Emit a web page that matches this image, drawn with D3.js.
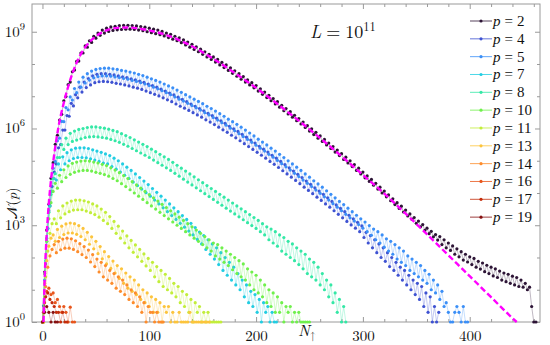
<!DOCTYPE html>
<html>
<head>
<meta charset="utf-8">
<script src="https://cdn.jsdelivr.net/npm/d3@7"></script>
<style>
body { margin: 0; background: #fff; }
</style>
</head>
<body>
<svg id="chart" width="550" height="345"></svg>
<script>
// log10 of N(p); one point every second N_up from seriesStart
var pValues = [2, 4, 5, 7, 8, 10, 11, 13, 14, 16, 17, 19];
var seriesColors = ["#2d1436", "#3e52d2", "#3b8ff7", "#22cde2", "#34e8a6", "#70f04c",
                    "#c2ee3a", "#fcc43c", "#fd8c2c", "#e8561c", "#c42c0a", "#861010"];
var seriesStart = [0, 1, 0, 1, 0, 0, 1, 0, 1, 0, 1, 0];
var nStep = 2;

var logN_p2 = [0,1.55,2.85,3.65,4.46,4.94,5.51,5.79,6.26,6.44,6.86,6.99,7.36,7.44,7.76,7.81,8.08,8.09,8.34,8.34,
  8.56,8.52,8.72,8.67,8.86,8.8,8.96,8.89,9.05,8.96,9.11,9.01,9.15,9.04,9.17,9.06,9.19,9.07,9.2,9.08,
  9.2,9.08,9.19,9.07,9.18,9.05,9.16,9.03,9.14,9.0,9.11,8.97,9.08,8.94,9.05,8.91,9.01,8.87,8.96,8.82,
  8.92,8.77,8.86,8.72,8.81,8.66,8.75,8.59,8.68,8.52,8.61,8.45,8.53,8.38,8.46,8.3,8.38,8.22,8.3,8.14,
  8.22,8.06,8.14,7.97,8.05,7.89,7.97,7.8,7.88,7.71,7.79,7.62,7.7,7.53,7.61,7.44,7.51,7.35,7.42,7.26,
  7.33,7.16,7.23,7.06,7.13,6.96,7.03,6.86,6.93,6.76,6.83,6.66,6.72,6.55,6.62,6.45,6.52,6.35,6.41,6.24,
  6.31,6.14,6.2,6.03,6.09,5.92,5.99,5.81,5.88,5.7,5.77,5.6,5.66,5.49,5.55,5.38,5.44,5.27,5.33,5.16,
  5.22,5.04,5.11,4.93,5.0,4.82,4.88,4.7,4.77,4.59,4.65,4.47,4.53,4.36,4.42,4.24,4.3,4.12,4.18,4.0,
  4.06,3.88,3.94,3.76,3.82,3.64,3.7,3.52,3.59,3.41,3.47,3.29,3.35,3.18,3.24,3.06,3.13,2.95,3.02,2.84,
  2.91,2.74,2.81,2.64,2.71,2.54,2.65,2.4,2.55,2.3,2.45,2.22,2.36,2.1,2.27,2.02,2.18,1.92,2.1,1.86,
  2.02,1.78,1.97,1.7,1.88,1.64,1.83,1.56,1.76,1.5,1.7,1.43,1.65,1.38,1.58,1.3,1.52,1.25,1.48,1.2,
  1.42,1.15,1.38,1.1,1.3,1.08,1.2,1.0,1.08,0.48,0,0];
var logN_p4 = [0.5,1.8,2.9,3.6,4.2,4.65,4.9,5.4,5.5,5.95,5.95,6.4,6.38,6.78,6.7,7.05,6.95,7.28,7.13,7.44,
  7.27,7.55,7.35,7.63,7.42,7.68,7.45,7.7,7.46,7.7,7.45,7.68,7.43,7.66,7.4,7.63,7.38,7.6,7.35,7.58,
  7.32,7.54,7.28,7.51,7.25,7.47,7.21,7.43,7.16,7.38,7.11,7.33,7.06,7.28,7.01,7.22,6.95,7.16,6.89,7.1,
  6.83,7.04,6.76,6.97,6.69,6.9,6.63,6.83,6.56,6.76,6.49,6.69,6.42,6.62,6.35,6.55,6.27,6.47,6.2,6.4,
  6.12,6.32,6.04,6.24,5.96,6.16,5.88,6.07,5.79,5.99,5.71,5.91,5.62,5.82,5.53,5.73,5.44,5.64,5.35,5.55,
  5.26,5.45,5.17,5.36,5.08,5.27,4.98,5.17,4.89,5.08,4.79,4.98,4.69,4.88,4.59,4.78,4.49,4.68,4.39,4.58,
  4.29,4.48,4.18,4.37,4.08,4.27,3.98,4.16,3.87,4.06,3.77,3.96,3.66,3.85,3.56,3.74,3.45,3.63,3.34,3.52,
  3.23,3.42,3.12,3.31,3.01,3.2,2.91,3.09,2.8,2.98,2.62,2.78,2.45,2.68,2.3,2.55,2.15,2.42,2.0,2.3,
  1.88,2.15,1.72,2.0,1.6,1.85,1.45,1.7,1.3,1.6,1.15,1.45,1.0,1.3,0.85,1.2,0.7,1.1,0.48,0.9,
  0.3,0.78,0,0.48,0,0.3];
var logN_p5 = [0,1.3,2.5,3.45,4.05,4.77,4.98,5.62,5.7,6.22,6.21,6.65,6.58,6.98,6.88,7.24,7.11,7.44,7.28,7.59,
  7.41,7.7,7.5,7.78,7.57,7.83,7.61,7.86,7.63,7.87,7.63,7.87,7.62,7.85,7.6,7.83,7.58,7.8,7.55,7.78,
  7.53,7.75,7.49,7.72,7.46,7.68,7.42,7.64,7.38,7.59,7.33,7.54,7.28,7.49,7.23,7.44,7.17,7.38,7.11,7.32,
  7.05,7.26,6.98,7.19,6.91,7.12,6.85,7.05,6.78,6.98,6.71,6.91,6.64,6.84,6.57,6.77,6.49,6.69,6.42,6.62,
  6.34,6.54,6.26,6.46,6.18,6.38,6.1,6.29,6.01,6.21,5.93,6.13,5.84,6.04,5.75,5.95,5.66,5.86,5.57,5.77,
  5.48,5.67,5.39,5.58,5.3,5.49,5.2,5.39,5.11,5.3,5.01,5.2,4.91,5.1,4.81,5.0,4.71,4.9,4.61,4.8,
  4.51,4.7,4.4,4.59,4.3,4.49,4.2,4.38,4.09,4.28,3.99,4.18,3.88,4.07,3.78,3.96,3.67,3.85,3.56,3.74,
  3.45,3.64,3.34,3.53,3.23,3.42,3.13,3.31,3.02,3.2,2.91,3.1,2.8,2.99,2.69,2.88,2.55,2.8,2.45,2.7,
  2.32,2.58,2.2,2.5,2.1,2.4,1.95,2.3,1.85,2.2,1.75,2.05,1.6,1.95,1.5,1.85,1.4,1.75,1.3,1.6,
  1.2,1.48,1.0,1.3,0.9,1.15,0.7,0.95,0.48,0.6,0.3,0,0,0.3,0.48,0.3,0,0.48,0,0];
var logN_p7 = [0,1.9,2.9,3.6,4.05,4.45,4.4,4.9,4.72,5.12,4.9,5.25,5.0,5.34,5.07,5.39,5.1,5.4,5.1,5.4,
  5.09,5.38,5.06,5.34,5.02,5.3,4.98,5.26,4.93,5.21,4.9,5.16,4.82,5.08,4.74,5.0,4.65,4.9,4.55,4.8,
  4.45,4.7,4.34,4.59,4.23,4.48,4.12,4.37,4.01,4.26,3.9,4.14,3.78,4.02,3.66,3.9,3.54,3.78,3.42,3.66,
  3.3,3.54,3.18,3.42,3.06,3.3,2.94,3.18,2.82,3.06,2.7,2.93,2.56,2.79,2.42,2.68,2.25,2.55,2.1,2.42,
  1.95,2.3,1.78,2.15,1.6,2.0,1.45,1.85,1.3,1.7,1.15,1.5,1.0,1.3,0.78,1.15,0.6,0.95,0.48,0.85,
  0.3,0.7,0,0.6,0.3,0.48,0,0.3,0,0];
var logN_p8 = [0,1.5,2.6,3.4,3.95,4.45,4.6,5.1,5.1,5.5,5.35,5.7,5.5,5.85,5.6,5.92,5.64,5.97,5.68,6.0,
  5.72,6.03,5.74,6.05,5.75,6.05,5.74,6.03,5.72,6.01,5.7,5.98,5.66,5.94,5.62,5.9,5.57,5.84,5.51,5.78,
  5.45,5.72,5.38,5.65,5.31,5.58,5.24,5.51,5.17,5.44,5.1,5.36,5.02,5.28,4.94,5.2,4.86,5.12,4.78,5.04,
  4.7,4.95,4.61,4.86,4.52,4.77,4.43,4.68,4.34,4.59,4.25,4.5,4.16,4.41,4.07,4.32,3.98,4.23,3.89,4.14,
  3.8,4.05,3.71,3.96,3.62,3.87,3.53,3.78,3.44,3.69,3.35,3.6,3.26,3.51,3.17,3.42,3.08,3.33,2.99,3.24,
  2.9,3.15,2.8,3.05,2.7,2.95,2.55,2.88,2.45,2.8,2.35,2.7,2.2,2.62,2.1,2.5,2.0,2.42,1.9,2.3,
  1.78,2.2,1.65,2.1,1.5,1.95,1.4,1.85,1.3,1.7,1.15,1.5,1.0,1.3,0.78,1.15,0.6,0.9,0.3,0.7,
  0,0.48,0];
var logN_p10 = [0,1.5,2.5,3.2,3.7,4.05,4.3,4.15,4.55,4.35,4.72,4.48,4.84,4.58,4.92,4.64,4.96,4.68,4.99,4.7,
  5.0,4.7,4.99,4.68,4.96,4.64,4.93,4.61,4.89,4.57,4.85,4.52,4.78,4.45,4.71,4.38,4.63,4.29,4.54,4.2,
  4.45,4.1,4.35,4.0,4.25,3.9,4.15,3.8,4.05,3.7,3.95,3.6,3.85,3.5,3.75,3.4,3.65,3.3,3.55,3.2,
  3.45,3.1,3.35,3.0,3.25,2.9,3.15,2.8,3.05,2.7,2.95,2.6,2.85,2.5,2.75,2.4,2.65,2.3,2.55,2.2,
  2.45,2.05,2.4,1.95,2.3,1.85,2.2,1.75,2.1,1.62,2.0,1.5,1.9,1.4,1.8,1.3,1.65,1.15,1.55,1.0,
  1.45,0.9,1.3,0.78,1.15,0.6,1.0,0.48,0.9,0.3,0.78,0.3,0.6,0,0.48,0.3,0.48,0,0.3,0,
  0.3,0,0,0,0,0];
var logN_p11 = [0,1.4,2.2,2.75,3.05,3.2,3.05,3.45,3.23,3.6,3.35,3.69,3.42,3.75,3.47,3.78,3.48,3.78,3.48,3.76,
  3.44,3.72,3.39,3.66,3.33,3.6,3.25,3.5,3.15,3.4,3.05,3.27,2.9,3.12,2.75,2.97,2.6,2.82,2.45,2.67,
  2.3,2.53,2.16,2.39,2.02,2.25,1.88,2.11,1.74,1.97,1.6,1.85,1.4,1.72,1.25,1.6,1.1,1.48,1.0,1.35,
  0.9,1.2,0.78,1.1,0.6,0.95,0.48,0.85,0.3,0.7,0,0.6,0.3,0.48,0,0.3,0,0.3,0,0,
  0,0,0,0];
var logN_p13 = [0,1.2,1.9,2.35,2.6,2.7,2.5,2.87,2.62,2.97,2.71,3.04,2.76,3.07,2.76,3.05,2.72,2.99,2.65,2.9,
  2.55,2.78,2.41,2.64,2.27,2.5,2.12,2.34,1.96,2.18,1.8,2.03,1.66,1.89,1.52,1.75,1.35,1.65,1.2,1.52,
  1.05,1.4,0.95,1.3,0.85,1.15,0.7,1.0,0.6,0.9,0.48,0.78,0.3,0.7,0.3,0.6,0,0.48,0.3,0.48,
  0,0.3,0,0,0.3,0,0,0,0,0.3,0,0,0,0,0,0,0,0,0];
var logN_p14 = [0,1.1,1.7,2.05,2.25,2.4,2.15,2.5,2.24,2.57,2.29,2.6,2.29,2.58,2.25,2.52,2.18,2.43,2.09,2.34,
  2.0,2.23,1.86,2.09,1.72,1.95,1.55,1.85,1.4,1.75,1.3,1.6,1.2,1.5,1.05,1.4,0.95,1.3,0.85,1.15,
  0.7,1.0,0.6,0.9,0.48,0.78,0.3,0.6,0,0.48,0.3,0.3,0,0.3,0,0,0];
var logN_p16 = [0,0.6,0.95,1.05,0.85,0.9,0.6,0.7,0.48,0.3,0.48,0.3,0,0.46,0,0];
var logN_p17 = [0.3,0.78,0.9,0.7,0.6,0.48,0.3,0.3,0,0.3,0,0];
var logN_p19 = [0,0.3,0.48,0.3,0,0.3,0,0];

var seriesLogs = [logN_p2, logN_p4, logN_p5, logN_p7, logN_p8, logN_p10,
                  logN_p11, logN_p13, logN_p14, logN_p16, logN_p17, logN_p19];

// dashed magenta reference curve
var fitN = [1,2,3,4,5,6,8,10,15,20,25,30,35,40,50,60,70,80,90,100,120,140,160,180,
            200,220,240,260,280,300,320,340,360,380,400,420,440,444];
var fitLog = [0,1.3,2.1,2.75,3.25,3.7,4.4,4.95,6.05,6.8,7.4,7.88,8.25,8.52,8.86,9.04,9.12,9.13,9.1,9.04,
              8.85,8.55,8.16,7.72,7.26,6.76,6.24,5.7,5.14,4.56,3.98,3.36,2.72,2.07,1.42,0.77,0.12,0];

var xMajor = [0, 100, 200, 300, 400];
var xMinor = [20,40,60,80,120,140,160,180,220,240,260,280,320,340,360,380,420,440,460];
var yMajorExp = [0, 3, 6, 9];
var yMinorExp = [1, 2, 4, 5, 7, 8];

var FONT = "'Latin Modern Roman', 'Liberation Serif', serif";
var LEGEND_FONT = "'Liberation Serif', serif";

var svg = d3.select("#chart");
var margin = {top: 4, right: 10, bottom: 23, left: 32};
var width = +svg.attr("width") - margin.left - margin.right;
var height = +svg.attr("height") - margin.top - margin.bottom;
var g = svg.append("g").attr("transform", "translate(" + margin.left + "," + margin.top + ")");

var x = d3.scaleLinear().domain([-9.8, 465.8]).range([0, width]);
var y = d3.scaleLog().domain([1, Math.pow(10, 9.86)]).range([height, 0]);
function yv(v) { return y(Math.pow(10, v)); }

var frameColor = "#9a9a9a";

function styleAxis(sel) {
    sel.attr("font-family", null);
    sel.select(".domain").remove();
    sel.selectAll(".tick line").attr("stroke", frameColor);
    sel.selectAll("text").attr("font-size", 15).attr("fill", "#111");
}

// ticks point inward on all four sides
g.append("g").attr("transform", "translate(0," + height + ")")
        .call(d3.axisBottom(x).tickValues(xMajor).tickSize(-5).tickPadding(8).tickFormat(d3.format("d")))
        .call(styleAxis);
g.append("g").attr("transform", "translate(0," + height + ")")
        .call(d3.axisBottom(x).tickValues(xMinor).tickSize(-3).tickFormat(""))
        .call(styleAxis);
g.append("g")
        .call(d3.axisTop(x).tickValues(xMajor).tickSize(-5).tickFormat(""))
        .call(styleAxis);
g.append("g")
        .call(d3.axisTop(x).tickValues(xMinor).tickSize(-3).tickFormat(""))
        .call(styleAxis);

var yMajorVals = yMajorExp.map(function (e) { return Math.pow(10, e); });
var yMinorVals = yMinorExp.map(function (e) { return Math.pow(10, e); });
g.append("g").call(d3.axisLeft(y).tickValues(yMajorVals).tickSize(-5).tickFormat("")).call(styleAxis);
g.append("g").call(d3.axisLeft(y).tickValues(yMinorVals).tickSize(-3).tickFormat("")).call(styleAxis);
g.append("g").attr("transform", "translate(" + width + ",0)")
        .call(d3.axisRight(y).tickValues(yMajorVals).tickSize(-5).tickFormat("")).call(styleAxis);
g.append("g").attr("transform", "translate(" + width + ",0)")
        .call(d3.axisRight(y).tickValues(yMinorVals).tickSize(-3).tickFormat("")).call(styleAxis);

// 10^n labels on the left
var yLab = g.append("g").selectAll("text").data(yMajorExp).enter().append("text")
        .attr("x", -7).attr("y", function (d) { return y(Math.pow(10, d)) + 5; })
        .attr("text-anchor", "end").attr("font-size", 15);
yLab.append("tspan").text("10");
yLab.append("tspan").attr("dy", -7).attr("font-size", 10.5).text(function (d) { return d; });

g.append("rect").attr("width", width).attr("height", height)
        .attr("fill", "none").attr("stroke", frameColor).attr("stroke-width", 1);

// series
var line = d3.line()
        .x(function (d) { return x(d.n); })
        .y(function (d) { return yv(d.v); });

seriesLogs.forEach(function (vals, k) {
    var pts = vals.map(function (v, i) { return {n: seriesStart[k] + nStep * i, v: v}; });
    var sg = g.append("g").attr("class", "series-p" + pValues[k]);
    sg.append("path").datum(pts)
            .attr("d", line)
            .attr("fill", "none")
            .attr("stroke", seriesColors[k])
            .attr("stroke-width", 0.6)
            .attr("stroke-opacity", 0.5);
    sg.selectAll("circle").data(pts).enter().append("circle")
            .attr("cx", function (d) { return x(d.n); })
            .attr("cy", function (d) { return yv(d.v); })
            .attr("r", 1.6)
            .attr("fill", seriesColors[k]);
});

var fitPts = fitN.map(function (n, i) { return {n: n, v: fitLog[i]}; });
g.append("path").datum(fitPts)
        .attr("d", d3.line().curve(d3.curveMonotoneX)
                .x(function (d) { return x(d.n); })
                .y(function (d) { return yv(d.v); }))
        .attr("fill", "none")
        .attr("stroke", "#ff00ff")
        .attr("stroke-width", 2.4)
        .attr("stroke-dasharray", "6,3");

// axis titles
var xt = svg.append("text").attr("x", 298).attr("y", 336).attr("font-size", 16);
xt.append("tspan").attr("font-style", "italic").text("N");
xt.append("tspan").attr("dy", 3).attr("font-size", 11).text("\u2191");

var ytl = svg.append("text").attr("transform", "translate(17,203) rotate(-90)")
        .attr("text-anchor", "middle").attr("font-size", 14);
ytl.append("tspan").text("\ud835\udca9(");
ytl.append("tspan").attr("font-style", "italic").text("p");
ytl.append("tspan").text(")");

// title
var tt = svg.append("text").attr("x", 310).attr("y", 38).attr("font-size", 18);
tt.append("tspan").attr("font-style", "italic").text("L");
tt.append("tspan").attr("dx", 5).text("=");
tt.append("tspan").attr("dx", 5).text("10");
tt.append("tspan").attr("dy", -7).attr("font-size", 12.5).text("11");

svg.selectAll("text").attr("font-family", FONT).attr("fill", "#111");

// legend
var legend = svg.append("g").attr("transform", "translate(470,21)");
var rows = legend.selectAll("g").data(pValues).enter().append("g")
        .attr("transform", function (d, i) { return "translate(0," + (i * 17.83) + ")"; });
rows.append("line").attr("x1", 0).attr("x2", 22)
        .attr("stroke", function (d, i) { return seriesColors[i]; })
        .attr("stroke-width", 1).attr("stroke-opacity", 0.8);
rows.append("circle").attr("cx", 11).attr("r", 1.6)
        .attr("fill", function (d, i) { return seriesColors[i]; });
var lt = rows.append("text").attr("x", 23).attr("y", 5).attr("font-size", 15)
        .attr("font-family", LEGEND_FONT).attr("fill", "#111");
lt.append("tspan").attr("font-style", "italic").text("p");
lt.append("tspan").attr("dx", 4).text("=");
lt.append("tspan").attr("dx", 4).text(function (d) { return d; });
</script>
</body>
</html>
